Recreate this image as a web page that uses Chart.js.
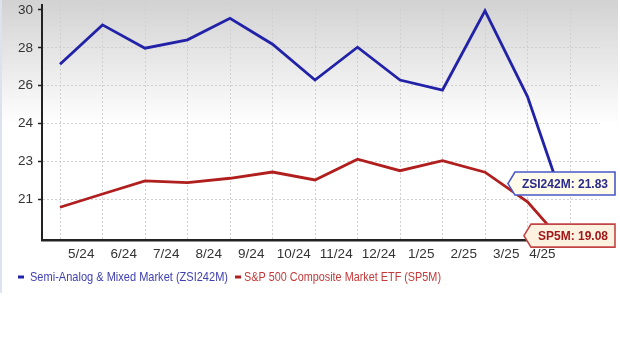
<!DOCTYPE html>
<html>
<head>
<meta charset="utf-8">
<script src="https://cdn.jsdelivr.net/npm/chart.js@4.4.1/dist/chart.umd.min.js"></script>
<style>
  html, body { margin: 0; padding: 0; background: #fff; }
  #wrap { width: 620px; height: 349px; }
</style>
</head>
<body>
<div id="wrap"><canvas id="peChart" width="620" height="349"></canvas></div>
<script>
// meses (cada etiqueta cae entre dos cierres de mes)
const monthLabels = ['5/24', '6/24', '7/24', '8/24', '9/24', '10/24', '11/24', '12/24', '1/25', '2/25', '3/25', '4/25'];
// etiquetas del eje y, tal como aparecen (espaciado igual)
const tickLabels = [21, 23, 24, 26, 28, 30];
const seriesNames = ['Semi-Analog & Mixed Market (ZSI242M)', 'S&P 500 Composite Market ETF (SP5M)'];
const seriesTags = ['ZSI242M', 'SP5M'];
const semiValues = [27.13, 29.21, 27.98, 28.42, 29.56, 28.19, 26.30, 28.03, 26.30, 25.77, 29.95, 25.42, 21.83];
const spValues = [20.58, 21.28, 21.97, 21.88, 22.11, 22.44, 22.02, 23.06, 22.51, 23.02, 22.43, 20.87, 19.08];
// el ultimo valor es a mitad de abril
const lastPos = 11.7;

const COLORS = ['#2222a8', '#b01e1e'];
const TEXT_COLORS = ['#4040b2', '#c43a3a'];
const NARROW = "'Liberation Sans Narrow', 'Liberation Sans', Arial, sans-serif";

// posicion en el eje (las marcas estan igualmente espaciadas)
function toAxis(v) {
    const n = tickLabels.length;
    for (let i = 0; i < n - 1; i++) {
        if (v <= tickLabels[i + 1] || i === n - 2) {
            return i + (v - tickLabels[i]) / (tickLabels[i + 1] - tickLabels[i]);
        }
    }
}

function xPos(i) {
    return i < monthLabels.length ? i : lastPos;
}

function toPoints(values) {
    return values.map((v, i) => ({ x: xPos(i), y: toAxis(v) }));
}

const labelPos = monthLabels.map((m, i) => i < monthLabels.length - 1 ? i + 0.5 : (i + lastPos) / 2);

const data = {
    datasets: [semiValues, spValues].map((vals, k) => ({
        label: seriesNames[k],
        data: toPoints(vals),
        borderColor: COLORS[k],
        borderWidth: 2.8,
        pointRadius: 0,
        tension: 0,
        fill: false
    }))
};

function drawFitted(ctx, text, x, y, width, font, color) {
    ctx.save();
    ctx.font = font;
    ctx.fillStyle = color;
    ctx.textBaseline = 'middle';
    ctx.textAlign = 'left';
    const w = ctx.measureText(text).width;
    ctx.translate(x, y);
    ctx.scale(width / w, 1);
    ctx.fillText(text, 0, 0);
    ctx.restore();
}

const decor = {
    id: 'decor',
    beforeDraw(chart) {
        const ctx = chart.ctx;
        ctx.save();
        ctx.fillStyle = '#ffffff';
        ctx.fillRect(0, 0, chart.width, chart.height);
        const g = ctx.createLinearGradient(0, 0, 0, 125);
        g.addColorStop(0, '#d2d2d2');
        g.addColorStop(1, '#ffffff');
        ctx.fillStyle = g;
        ctx.fillRect(0, 0, 618, 125);
        ctx.fillStyle = '#dde3ee';
        ctx.fillRect(0, 0, 2, 293);
        ctx.restore();
    },
    afterDraw(chart) {
        const ctx = chart.ctx;
        const boxFill = ['#fffbea', '#fdf1e0'];
        const boxLine = ['#4858c8', '#c24545'];
        const boxText = ['#2a2a8c', '#a01818'];
        const values = [semiValues, spValues];

        // etiquetas del ultimo valor
        chart.data.datasets.forEach((ds, k) => {
            const meta = chart.getDatasetMeta(k);
            const pt = meta.data[meta.data.length - 1];
            const text = seriesTags[k] + ': ' + values[k][values[k].length - 1].toFixed(2);
            ctx.save();
            ctx.font = 'bold 12px ' + NARROW;
            const tw = ctx.measureText(text).width;
            const right = 615, h = 23, cy = pt.y;
            const left = right - tw - 14;
            ctx.beginPath();
            ctx.moveTo(left - 7, cy);
            ctx.lineTo(left, cy - h / 2);
            ctx.lineTo(right, cy - h / 2);
            ctx.lineTo(right, cy + h / 2);
            ctx.lineTo(left, cy + h / 2);
            ctx.closePath();
            ctx.fillStyle = boxFill[k];
            ctx.fill();
            ctx.lineWidth = 1.6;
            ctx.strokeStyle = boxLine[k];
            ctx.stroke();
            ctx.fillStyle = boxText[k];
            ctx.textBaseline = 'middle';
            ctx.textAlign = 'right';
            ctx.fillText(text, right - 7, cy + 1);
            ctx.restore();
        });

        // leyenda
        const legendY = 277;
        const items = [
            { dash: [18, 24], textX: 30, width: 198 },
            { dash: [235, 241], textX: 244, width: 197 }
        ];
        items.forEach((it, k) => {
            ctx.save();
            ctx.strokeStyle = COLORS[k];
            ctx.lineWidth = 3;
            ctx.beginPath();
            ctx.moveTo(it.dash[0], legendY);
            ctx.lineTo(it.dash[1], legendY);
            ctx.stroke();
            ctx.restore();
            drawFitted(ctx, seriesNames[k], it.textX, legendY, it.width, "13px 'Liberation Sans', Arial, sans-serif", TEXT_COLORS[k]);
        });
    }
};

const config = {
    type: 'line',
    data: data,
    plugins: [decor],
    options: {
        responsive: false,
        animation: false,
        layout: { padding: { top: 5, right: 20, bottom: 0, left: 0 } },
        plugins: {
            legend: { display: false },
            tooltip: { enabled: false }
        },
        scales: {
            x: {
                type: 'linear',
                min: -18 / 42.5,
                max: 540 / 42.5,
                afterBuildTicks: scale => {
                    const grid = monthLabels.map((m, i) => ({ value: i })).concat([{ value: monthLabels.length }]);
                    scale.ticks = grid.concat(labelPos.map(v => ({ value: v })));
                },
                afterFit: scale => {
                    scale.height = 349 - 240;
                    scale.paddingLeft = 0;
                    scale.paddingRight = 0;
                },
                ticks: {
                    autoSkip: false,
                    maxRotation: 0,
                    padding: 6,
                    color: '#333',
                    font: { family: NARROW, size: 13.5 },
                    callback: value => {
                        const i = labelPos.findIndex(p => Math.abs(p - value) < 1e-6);
                        return i >= 0 ? monthLabels[i] : '';
                    }
                },
                grid: {
                    drawTicks: false,
                    color: ctx => (ctx.tick && Number.isInteger(ctx.tick.value)) ? '#d0d0d0' : 'rgba(0,0,0,0)'
                },
                border: { color: '#222', width: 2.5, dash: [2, 2] }
            },
            y: {
                type: 'linear',
                min: -1.075,
                max: 5.13,
                afterBuildTicks: scale => {
                    scale.ticks = tickLabels.map((t, i) => ({ value: i }));
                },
                afterFit: scale => {
                    scale.width = 42;
                    scale.paddingTop = 0;
                    scale.paddingBottom = 0;
                },
                ticks: {
                    padding: 5,
                    color: '#333',
                    font: { family: NARROW, size: 13.5 },
                    callback: value => tickLabels[value] !== undefined ? String(tickLabels[value]) : ''
                },
                grid: {
                    color: '#d0d0d0',
                    tickLength: 4,
                    tickColor: '#222',
                    tickWidth: 1.5
                },
                border: { color: '#222', width: 2, dash: [2, 2] }
            }
        }
    }
};

window.onload = function() {
    const ctx = document.getElementById('peChart').getContext('2d');
    new Chart(ctx, config);
};
</script>
</body>
</html>
